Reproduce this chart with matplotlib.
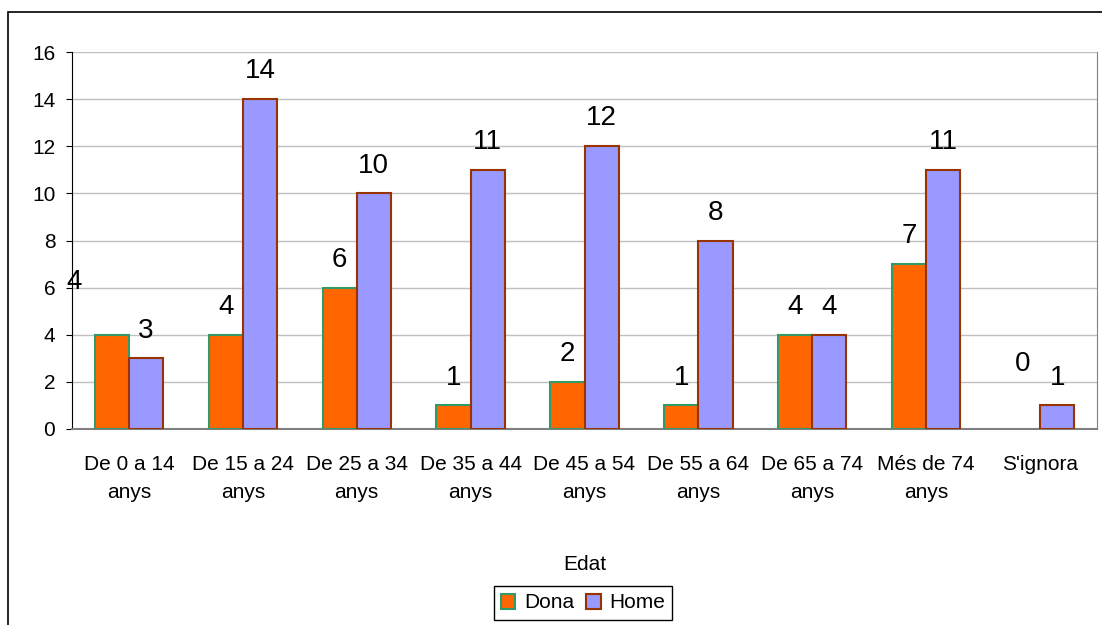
"""
Bar chart of Dona / Home counts per age group (Edat).
"""
import numpy as np
import matplotlib
matplotlib.use("Agg")
import matplotlib.pyplot as plt
from matplotlib.patches import Patch, Rectangle

plt.rcParams["font.family"] = ["Liberation Sans", "DejaVu Sans"]

# data
categories = ["De 0 a 14\nanys", "De 15 a 24\nanys", "De 25 a 34\nanys",
              "De 35 a 44\nanys", "De 45 a 54\nanys", "De 55 a 64\nanys",
              "De 65 a 74\nanys", "Més de 74\nanys", "S'ignora"]
dona = [4, 4, 6, 1, 2, 1, 4, 7, 0]
home = [3, 14, 10, 11, 12, 8, 4, 11, 1]
yticks = [0, 2, 4, 6, 8, 10, 12, 14, 16]

W, H = 1102, 625
fig = plt.figure(figsize=(W / 100, H / 100), dpi=100)
fig.patch.set_facecolor("white")

# outer chart border (right and bottom edges fall outside the image)
fig.patches.append(Rectangle((8 / W, -0.1), 1.2, 1 - 12 / H + 0.1,
                             transform=fig.transFigure, fill=False,
                             edgecolor="black", lw=1.2))

ax = fig.add_axes([72 / W, (H - 429) / H, 1025 / W, 377 / H])

ind = np.arange(len(categories))
width = 0.3
dona_lw = [1.5 if v > 0 else 0 for v in dona]
ax.bar(ind - width / 2, dona, width=width, facecolor="#FF6600",
       edgecolor="#339966", linewidth=dona_lw, zorder=3)
ax.bar(ind + width / 2, home, width=width, facecolor="#9999FF",
       edgecolor="#993300", linewidth=1.5, zorder=3)

ax.set_xlim(-0.5, len(categories) - 0.5)
ax.set_ylim(0, 16)
ax.set_yticks(yticks)
ax.grid(axis="y", color="#C0C0C0", linewidth=1, zorder=0)
ax.set_axisbelow(True)

for s in ["top", "right", "bottom"]:
    ax.spines[s].set_color("#808080")
ax.spines["top"].set_visible(False)
ax.spines["left"].set_color("black")
ax.spines["bottom"].set_linewidth(1.5)

ax.set_xticks(ind)
ax.set_xticklabels(categories, fontsize=15, linespacing=1.6)
ax.tick_params(axis="x", length=0, pad=19)
ax.tick_params(axis="y", length=4, direction="out", labelsize=15, pad=8)
ax.set_xlabel("Edat", fontsize=15, labelpad=38)

# data labels above bars (Excel moved a couple of them)
for i, v in enumerate(dona):
    off = (0, 20)
    if i == 0:
        off = (-27, 38)
    elif v == 0:
        off = (0, 47)
    ax.annotate(str(v), (ind[i] - width / 2, v), xytext=off,
                textcoords="offset points", ha="center", va="center",
                fontsize=20)
for i, v in enumerate(home):
    ax.annotate(str(v), (ind[i] + width / 2, v), xytext=(0, 20),
                textcoords="offset points", ha="center", va="center",
                fontsize=20)

handles = [Patch(facecolor="#FF6600", edgecolor="#339966", linewidth=1.5),
           Patch(facecolor="#9999FF", edgecolor="#993300", linewidth=1.5)]
leg = fig.legend(handles, ["Dona", "Home"], loc="center",
                 bbox_to_anchor=(583 / W, 1 - 603 / H), ncol=2, fontsize=15,
                 handlelength=0.7, handleheight=0.7, handletextpad=0.4,
                 columnspacing=0.6, fancybox=False, framealpha=1,
                 borderpad=0.35)
leg.get_frame().set_edgecolor("black")

plt.savefig("out.png", dpi=100)
